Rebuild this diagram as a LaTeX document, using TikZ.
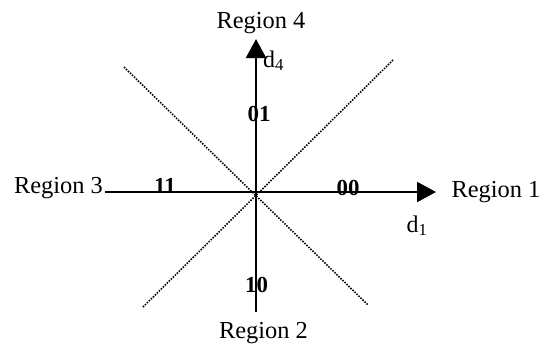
\documentclass[tikz,border=0pt]{standalone}
\usepackage{fontspec}
\setmainfont{Liberation Serif}
\usetikzlibrary{arrows.meta, positioning}

\begin{document}
\begin{tikzpicture}[x=1bp, y=-1bp,
    axis/.style={line width=2.2bp, -{Triangle[length=19bp, width=20bp]}},
    divider/.style={dash pattern=on 1.5bp off 1.3bp, line width=1.6bp},
    regionlbl/.style={font=\fontsize{24.5}{27}\selectfont, inner sep=0pt, anchor=base},
    codelbl/.style={font=\fontsize{23}{26}\selectfont\bfseries, inner sep=0pt, anchor=base},
    axislbl/.style={font=\fontsize{24}{26}\selectfont, inner sep=0pt, anchor=base}]
  \useasboundingbox (0,0) rectangle (544,351);
  \coordinate (o) at (256,192);
  \coordinate (west) at (105,192);
  \coordinate (east) at (436,192);
  \coordinate (south) at (256,312);
  \coordinate (north) at (256,39);
  \coordinate (nw) at (124,67);
  \coordinate (se) at (368,305);
  \coordinate (ne) at (393,60);
  \coordinate (sw) at (143,307);
  \draw[divider] (nw) -- (se);
  \draw[divider] (ne) -- (sw);
  % labels
  \node[regionlbl] (reg4) at (261,28) {Region 4};
  \node[regionlbl] (reg3) at (58.5,193) {Region 3};
  \node[regionlbl] (reg1) at (496,197) {Region 1};
  \node[regionlbl] (reg2) at (263.5,338) {Region 2};
  \node[codelbl] (c01) at (259,121) {01};
  \node[codelbl] (c11) at (165,193) {11};
  \node[codelbl] (c00) at (348,195) {00};
  \node[codelbl] (c10) at (256.5,292) {10};
  \node[axislbl, anchor=base west] (d4) at (263,67) {d\textsubscript{4}};
  \node[axislbl] (d1) at (417,232) {d\textsubscript{1}};
  \draw[axis] (west) -- (east);
  \draw[axis] (south) -- (north);
\end{tikzpicture}
\end{document}
